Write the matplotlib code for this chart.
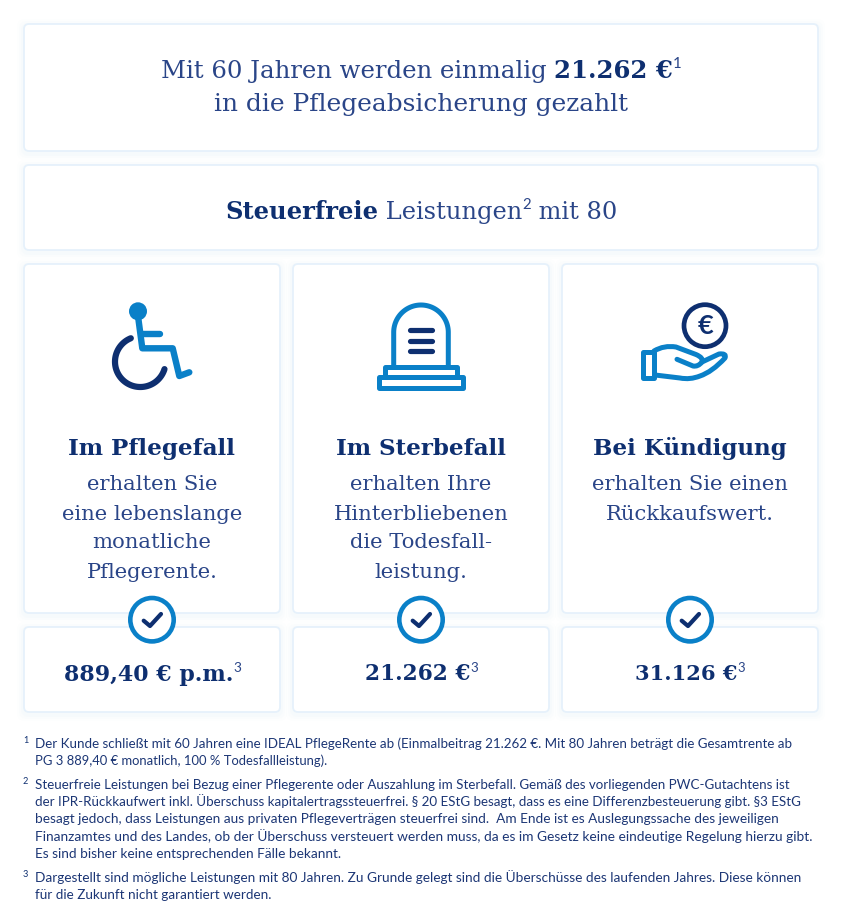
import numpy as np
import matplotlib
matplotlib.use("Agg")
import matplotlib.pyplot as plt
from matplotlib.patches import FancyBboxPatch, Circle, Rectangle, PathPatch
from matplotlib.path import Path

NAVY = "#0e2f70"
LIGHT = "#2a4588"
BLUE = "#0a80c8"
EDGE = "#e6f1fb"
SERIF = "DejaVu Serif"
SANS = "Lato"

# ---------- content ----------
title_line1 = [("Mit 60 Jahren werden einmalig ", "l"), ("21.262 €", "b"), ("1", "s")]
title_line2 = [("in die Pflegeabsicherung gezahlt", "l")]
subtitle = [("Steuerfreie", "b"), (" Leistungen", "l"), ("2", "s"), (" mit 80", "l")]
card_heads = ["Im Pflegefall", "Im Sterbefall", "Bei Kündigung"]
card_bodies = [
    ["erhalten Sie", "eine lebenslange", "monatliche", "Pflegerente."],
    ["erhalten Ihre", "Hinterbliebenen", "die Todesfall-", "leistung."],
    ["erhalten Sie einen", "Rückkaufswert."],
]
amounts = ["889,40 € p.m.", "21.262 €", "31.126 €"]
footnote_marks = ["1", "2", "3"]
footnotes = [
    "Der Kunde schließt mit 60 Jahren eine IDEAL PflegeRente ab (Einmalbeitrag 21.262 €. Mit 80 Jahren beträgt die Gesamtrente ab",
    "PG 3 889,40 € monatlich, 100 % Todesfallleistung).",
    "Steuerfreie Leistungen bei Bezug einer Pflegerente oder Auszahlung im Sterbefall. Gemäß des vorliegenden PWC-Gutachtens ist",
    "der IPR-Rückkaufwert inkl. Überschuss kapitalertragssteuerfrei. § 20 EStG besagt, dass es eine Differenzbesteuerung gibt. §3 EStG",
    "besagt jedoch, dass Leistungen aus privaten Pflegeverträgen steuerfrei sind.  Am Ende ist es Auslegungssache des jeweiligen",
    "Finanzamtes und des Landes, ob der Überschuss versteuert werden muss, da es im Gesetz keine eindeutige Regelung hierzu gibt.",
    "Es sind bisher keine entsprechenden Fälle bekannt.",
    "Dargestellt sind mögliche Leistungen mit 80 Jahren. Zu Grunde gelegt sind die Überschüsse des laufenden Jahres. Diese können",
    "für die Zukunft nicht garantiert werden.",
]

# ---------- layout (pixels) ----------
card_x = [(24, 280), (293, 549), (562, 818)]
card_cx = [152, 421, 690]
head_span = [(68, 237), (336, 506), (592, 789)]
body_ref = (61, 243)
body_base = [490.5, 519.5, 548.5, 577.5]
amount_span = [(64, 241), (365, 478), (635, 745)]
foot_base = [748, 765, 789, 806, 823, 841, 858, 882, 899]
foot_end = [789, 329, 797, 801, 780, 807, 339, 799, 271]
mark_base = [743, 784, 877]

fig = plt.figure(figsize=(8.42, 9.23), dpi=100, facecolor="white")
ax = fig.add_axes([0, 0, 1, 1])
ax.set_xlim(0, 842)
ax.set_ylim(923, 0)
ax.axis("off")
renderer = fig.canvas.get_renderer()
PT = 0.72


def adv(s, family, weight, size):
    t = ax.text(0, 0, s + "|", family=family, weight=weight, fontsize=size)
    b = t.get_window_extent(renderer).width
    t.set_text("|")
    c = t.get_window_extent(renderer).width
    t.remove()
    return b - c


def style(kind, size):
    if kind == "b":
        return SERIF, "bold", NAVY, size, 0
    if kind == "s":
        return SANS, "normal", LIGHT, size * 0.62, size * 0.40 / PT
    return SERIF, "normal", LIGHT, size, 0


def total(runs, size):
    w = 0
    for txt, k in runs:
        fam, wt, _, sz, _ = style(k, size)
        w += adv(txt, fam, wt, sz)
    return w


def fit(runs, x0, x1, size=20.0):
    for _ in range(3):
        size *= (x1 - x0) / total(runs, size)
    return size


def rich(runs, x0, x1, y, size=20.0):
    size = fit(runs, x0, x1, size)
    x = x0
    for txt, k in runs:
        fam, wt, col, sz, up = style(k, size)
        ax.text(x, y - up, txt, family=fam, weight=wt, color=col, fontsize=sz,
                ha="left", va="baseline", zorder=6)
        x += adv(txt, fam, wt, sz)


def card(x0, y0, x1, y1):
    for grow, a in ((7, .035), (5, .05), (3, .07)):
        ax.add_patch(FancyBboxPatch((x0 - grow, y0 - grow + 2), x1 - x0 + 2 * grow, y1 - y0 + 2 * grow,
                                    boxstyle="round,pad=0,rounding_size=8", fc="#cfe3f5", ec="none",
                                    alpha=a, zorder=1))
    ax.add_patch(FancyBboxPatch((x0, y0), x1 - x0, y1 - y0, boxstyle="round,pad=0,rounding_size=5",
                                fc="white", ec=EDGE, lw=1.3, zorder=2))


def stroke(pts, color, px):
    p = np.array(pts, float)
    ax.plot(p[:, 0], p[:, 1], color=color, lw=px * PT, solid_capstyle="round",
            solid_joinstyle="round", zorder=4)


def arc(cx, cy, r, t0, t1, n=80):
    t = np.radians(np.linspace(t0, t1, n))
    return np.c_[cx + r * np.cos(t), cy + r * np.sin(t)]


def glyph(verts, codes, color, px):
    ax.add_patch(PathPatch(Path(np.array(verts, float), codes), fc="none", ec=color, lw=px * PT,
                           capstyle="round", joinstyle="round", zorder=4))


M, L, Q = Path.MOVETO, Path.LINETO, Path.CURVE3

# ---------- boxes ----------
card(24, 24, 818, 151)
card(24, 165, 818, 250)
for x0, x1 in card_x:
    card(x0, 264, x1, 613)
    card(x0, 627, x1, 712)

# ---------- main text ----------
rich(title_line1, 161, 682, 78)
rich(title_line2, 214, 628, 111)
rich(subtitle, 225, 618, 219)
head_size = fit([(card_heads[1], "b")], *head_span[1])
body_size = fit([(card_bodies[0][1], "l")], *body_ref)
for i in range(3):
    ax.text(card_cx[i], 455, card_heads[i], family=SERIF, weight="bold", color=NAVY,
            fontsize=head_size, ha="center", va="baseline", zorder=6)
    for j, line in enumerate(card_bodies[i]):
        ax.text(card_cx[i], body_base[j], line, family=SERIF, color=LIGHT, fontsize=body_size,
                ha="center", va="baseline", zorder=6)
    rich([(amounts[i], "b"), ("3", "s")], *amount_span[i], 680.5)

# ---------- wheelchair icon ----------
ax.add_patch(Circle((138, 311.3), 9, fc=BLUE, ec="none", zorder=4))
stroke([(138, 316), (142.3, 348.3), (172.7, 348.3), (179.3, 376), (189.3, 372.3)], BLUE, 6.4)
stroke([(142.3, 333.7), (160, 333.7)], BLUE, 6.4)
stroke(arc(140.3, 361.7, 25.3, 248, 17), NAVY, 6.2)

# ---------- gravestone icon ----------
stroke(np.vstack([[(393.7, 367.3)], arc(421, 332.3, 27.3, 180, 360), [(448.3, 367.3)]]), BLUE, 5)
for a, b, c, d in ((385, 367.3, 457.3, 377.3), (379.3, 377.3, 462.7, 387.7)):
    ax.add_patch(Rectangle((a, b), c - a, d - b, fc="white", ec=BLUE, lw=5 * PT,
                           joinstyle="round", zorder=4))
for yy in (330.3, 340.7, 350.7):
    stroke([(410, yy), (432, yy)], NAVY, 5.2)

# ---------- coin and hand icon ----------
ax.add_patch(Circle((705, 325.7), 21, fc="white", ec=NAVY, lw=4.7 * PT, zorder=4))
ax.text(705, 326, "€", family=SANS, weight="bold", color=NAVY, fontsize=19.5, ha="center",
        va="center", zorder=5)
ax.add_patch(Rectangle((642.7, 351.7), 11.3, 26, fc="white", ec=BLUE, lw=5 * PT,
                       joinstyle="round", zorder=4))
glyph([(654, 351), (664, 345), (676, 347), (696, 354.5), (704, 358), (702, 362)],
      [M, Q, Q, L, Q, Q], BLUE, 5)
glyph([(677, 359.3), (693, 366), (698, 367), (702, 362), (719, 354), (727, 353), (725, 358),
       (712, 372), (700, 376), (690, 380), (680, 378), (655, 375)],
      [M, L, Q, Q, L, Q, Q, Q, Q, Q, Q, L], BLUE, 5)

# ---------- check badges ----------
for cx in card_cx:
    ax.add_patch(Circle((cx, 619.7), 21.7, fc="white", ec=BLUE, lw=4.6 * PT, zorder=5))
    pts = np.array([(cx - 8.3, 620.7), (cx - 2, 626), (cx + 9, 614)], float)
    ax.plot(pts[:, 0], pts[:, 1], color=NAVY, lw=4.2 * PT, solid_capstyle="round",
            solid_joinstyle="round", zorder=6)

# ---------- footnotes ----------
for m, yy in zip(footnote_marks, mark_base):
    ax.text(23, yy, m, family=SANS, color=NAVY, fontsize=6.6, ha="left", va="baseline", zorder=6)
for line, yy, end in zip(footnotes, foot_base, foot_end):
    s = 9.3
    for _ in range(3):
        s *= (end - 35) / adv(line, SANS, "normal", s)
    ax.text(35, yy, line, family=SANS, color="#1c3675", fontsize=s, ha="left", va="baseline", zorder=6)

fig.savefig("out.png", dpi=100, facecolor="white")
